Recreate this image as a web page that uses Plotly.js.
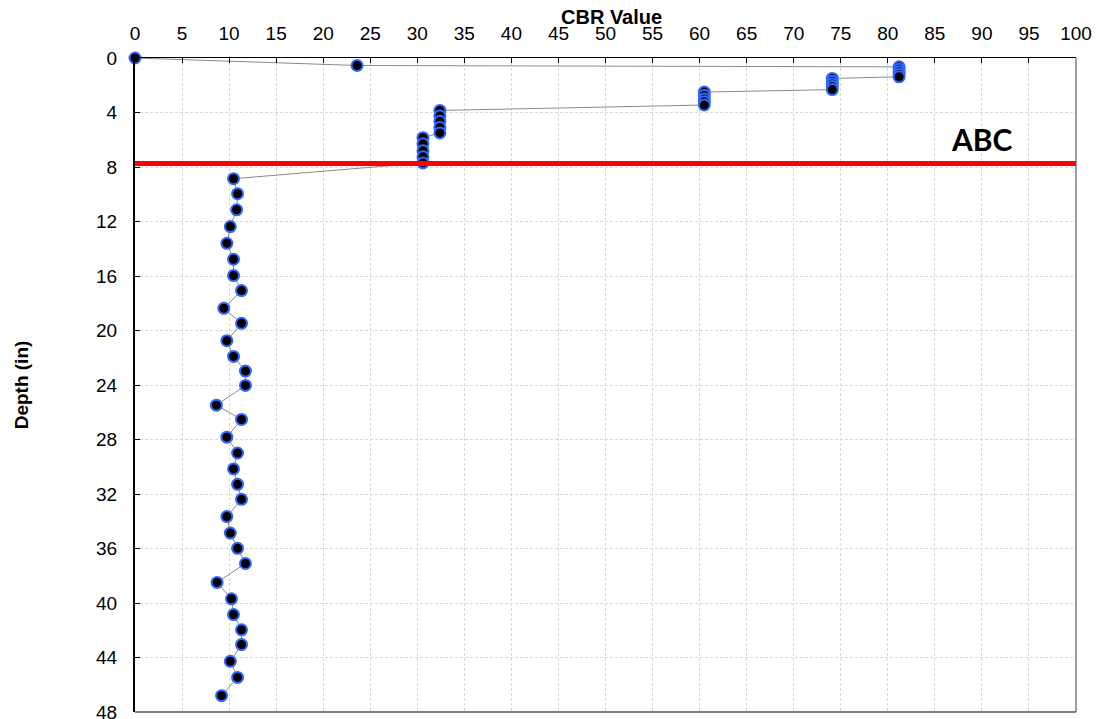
<!DOCTYPE html>
<html>
<head>
<meta charset="utf-8">
<script src="https://cdn.plot.ly/plotly-3.0.1.min.js"></script>
<style>html,body{margin:0;padding:0;background:#fff;}#chart{width:1099px;height:719px;}</style>
</head>
<body>
<div id="chart"></div>
<script>
// CBR values (x) and depths in inches (y)
var cbrValues = [0, 23.6,
  81.2, 81.2, 81.2, 81.2, 81.2,
  74.1, 74.1, 74.1, 74.1, 74.1,
  60.5, 60.5, 60.5, 60.5, 60.5,
  32.4, 32.4, 32.4, 32.4, 32.4,
  30.6, 30.6, 30.6, 30.6, 30.6,
  10.47, 10.9, 10.8, 10.13, 9.76, 10.47, 10.47, 11.32, 9.44, 11.32, 9.76, 10.47,
  11.74, 11.74, 8.65, 11.32, 9.76, 10.9, 10.47, 10.9, 11.32, 9.76, 10.13, 10.9,
  11.74, 8.72, 10.25, 10.47, 11.32, 11.32, 10.13, 10.9, 9.2];
var depthValues = [0, 0.55,
  0.65, 0.83, 1.0, 1.2, 1.38,
  1.5, 1.7, 1.9, 2.1, 2.32,
  2.5, 2.75, 3.0, 3.22, 3.45,
  3.85, 4.25, 4.65, 5.1, 5.5,
  5.85, 6.3, 6.8, 7.25, 7.7,
  8.86, 9.96, 11.14, 12.37, 13.6, 14.77, 15.97, 17.07, 18.37, 19.47, 20.75, 21.9,
  22.98, 24.03, 25.48, 26.53, 27.83, 28.99, 30.16, 31.29, 32.39, 33.66, 34.87, 35.99,
  37.1, 38.49, 39.69, 40.85, 41.97, 43.05, 44.28, 45.46, 46.8];
var layerDepth = 7.75;       // red boundary line depth
var layerLabel = "ABC";
var layerLabelX = 90;
var layerLabelDepth = 5.95;
var xTitle = "CBR Value";
var yTitle = "Depth (in)";

var trace = {
  x: cbrValues,
  y: depthValues,
  type: "scatter",
  mode: "lines+markers",
  cliponaxis: false,
  line: {color: "#8a8a8a", width: 1},
  marker: {size: 11, color: "#000000", line: {color: "#3366ff", width: 2}},
  hoverinfo: "x+y"
};

var layout = {
  width: 1099,
  height: 719,
  margin: {l: 135, r: 23, t: 58, b: 7, pad: 0},
  paper_bgcolor: "#ffffff",
  plot_bgcolor: "#ffffff",
  showlegend: false,
  font: {family: "Liberation Sans, Arial, sans-serif", color: "#000", size: 19},
  xaxis: {
    side: "top",
    range: [0, 100],
    dtick: 5,
    tick0: 0,
    ticks: "inside",
    ticklen: 5,
    tickcolor: "#000",
    ticklabelstandoff: 9,
    ticklabeloverflow: "allow",
    showline: true,
    linecolor: "#000",
    linewidth: 1.5,
    showgrid: true,
    gridcolor: "#d9d9d9",
    griddash: "3px,2px",
    gridwidth: 1,
    zeroline: false,
    tickfont: {size: 19}
  },
  yaxis: {
    range: [48, 0],
    dtick: 4,
    tick0: 0,
    ticks: "inside",
    ticklen: 5,
    tickcolor: "#000",
    ticklabelstandoff: 12,
    ticklabeloverflow: "allow",
    showline: true,
    linecolor: "#000",
    linewidth: 2,
    showgrid: true,
    gridcolor: "#d9d9d9",
    griddash: "3px,2px",
    gridwidth: 1,
    zeroline: false,
    tickfont: {size: 19},
    title: {text: yTitle, font: {size: 19, family: "Liberation Sans, Arial, sans-serif", weight: "bold"}, standoff: 62}
  },
  shapes: [
    {type: "line", xref: "paper", yref: "paper", x0: 1, x1: 1, y0: 0, y1: 1, line: {color: "#7f7f7f", width: 1.5}},
    {type: "line", xref: "paper", yref: "paper", x0: 0, x1: 1, y0: 0, y1: 0, line: {color: "#555555", width: 1.5}},
    {type: "line", xref: "paper", yref: "y", x0: 0, x1: 1, y0: layerDepth, y1: layerDepth, line: {color: "#ff0000", width: 5}, layer: "above"}
  ],
  annotations: [
    {x: 0.5, y: 1, xref: "paper", yref: "paper", xanchor: "center", yanchor: "middle", yshift: 41, xshift: 6,
     text: xTitle, showarrow: false,
     font: {family: "Liberation Sans, Arial, sans-serif", size: 20, color: "#000", weight: "bold"}},
    {x: layerLabelX, y: layerLabelDepth, xref: "x", yref: "y", text: layerLabel, showarrow: false,
     font: {family: "Lato, Open Sans, sans-serif", size: 30, color: "#000", weight: "bold"}}
  ]
};

Plotly.newPlot("chart", [trace], layout, {displayModeBar: false, staticPlot: true});
</script>
</body>
</html>
